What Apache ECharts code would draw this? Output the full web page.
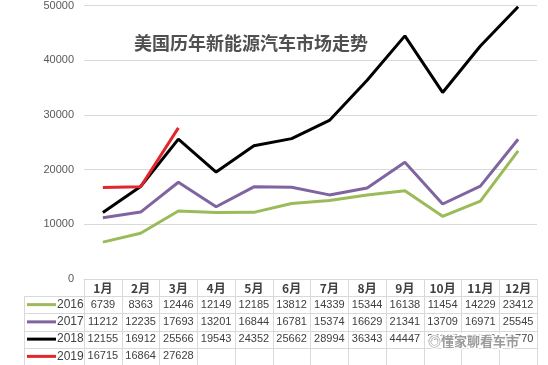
<!DOCTYPE html>
<html><head><meta charset="utf-8">
<script src="https://cdn.jsdelivr.net/npm/echarts@6/dist/echarts.min.js"></script>
<style>html,body{margin:0;padding:0;background:#fff}#c{width:548px;height:365px}</style>
</head><body><div id="c"></div>
<script>
var months = ['1月','2月','3月','4月','5月','6月','7月','8月','9月','10月','11月','12月'];
var years = ['2016','2017','2018','2019'];
var v2016 = [6739,8363,12446,12149,12185,13812,14339,15344,16138,11454,14229,23412];
var v2017 = [11212,12235,17693,13201,16844,16781,15374,16629,21341,13709,16971,25545];
var v2018 = [12155,16912,25566,19543,24352,25662,28994,36343,44447,34107,42600,49770];
var v2019 = [16715,16864,27628];
var colors = ['#9bbb59','#7f64a0','#000000','#e3262b'];
var yTicks = [0,10000,20000,30000,40000,50000];
var title = '美国历年新能源汽车市场走势';
var watermark = '懂家聊看车市';

var allData = [v2016, v2017, v2018, v2019];
var chart = echarts.init(document.getElementById('c'));
var series = years.map(function(y, i){
  return {name: y, type: 'line', data: allData[i], symbol: 'none', smooth: false,
    lineStyle: {color: colors[i], width: 3}, itemStyle: {color: colors[i]}, z: 3 + i, animation: false, clip: false};
});
chart.setOption({
  animation: false,
  grid: {left: 84, right: 11, top: 5, bottom: 86, containLabel: false},
  xAxis: {type: 'category', data: months, boundaryGap: true,
    axisLine: {show: true, lineStyle: {color: '#d9d9d9', width: 1}},
    axisTick: {show: true, length: 86, lineStyle: {color: '#d9d9d9'}, interval: 0},
    axisLabel: {color: '#404040', fontSize: 12, fontWeight: 'bold', fontFamily: 'Noto Sans CJK SC', margin: 3, interval: 0}},
  yAxis: {type: 'value', min: yTicks[0], max: yTicks[yTicks.length-1], interval: 10000,
    axisLine: {show: false}, axisTick: {show: false},
    splitLine: {lineStyle: {color: '#d9d9d9', width: 1}},
    axisLabel: {color: '#595959', fontSize: 11, fontFamily: 'Liberation Sans', margin: 10, formatter: function(v){ return String(v); }}},
  title: {text: title, left: 129, top: 29, textStyle: {fontSize: 18, fontWeight: 'bold', color: '#505050', fontFamily: 'Noto Sans CJK SC'}},
  series: series
});

var g = [];
var x0 = chart.convertToPixel({xAxisIndex: 0}, 0);
var step = chart.convertToPixel({xAxisIndex: 0}, 1) - x0;
var left = x0 - step / 2;
var right = left + step * months.length;
var headerBottom = 296, rowH = 17.25;
var tableLeft = 24;
for (var r = 0; r <= years.length; r++) {
  var yy = Math.round(headerBottom + r * rowH) + 0.5;
  g.push({type: 'line', shape: {x1: tableLeft, y1: yy, x2: right, y2: yy}, style: {stroke: '#d9d9d9', lineWidth: 1}, silent: true});
}
g.push({type: 'line', shape: {x1: tableLeft + 0.5, y1: headerBottom, x2: tableLeft + 0.5, y2: 365}, style: {stroke: '#d9d9d9', lineWidth: 1}});
years.forEach(function(y, i){
  var cy = headerBottom + (i + 0.5) * rowH;
  g.push({type: 'line', shape: {x1: 27, y1: cy, x2: 56, y2: cy}, style: {stroke: colors[i], lineWidth: 3}});
  g.push({type: 'text', x: 57, y: cy, style: {text: y, fill: '#404040', font: '12px "Liberation Sans"', textVerticalAlign: 'middle', textAlign: 'left'}});
  allData[i].forEach(function(v, j){
    var cx = chart.convertToPixel({xAxisIndex: 0}, j);
    g.push({type: 'text', x: cx, y: cy, style: {text: String(v), fill: '#404040', font: '11px "Liberation Sans"', textAlign: 'center', textVerticalAlign: 'middle'}});
  });
});
g.push({type: 'text', x: 428, y: 341, z: 100, style: {text: '◎' + watermark, fill: '#8a8a8a', font: 'bold 13px "Noto Sans CJK SC"', textAlign: 'left', textVerticalAlign: 'middle', stroke: '#ffffff', lineWidth: 3, opacity: 0.85}});
chart.setOption({graphic: g});
</script></body></html>
